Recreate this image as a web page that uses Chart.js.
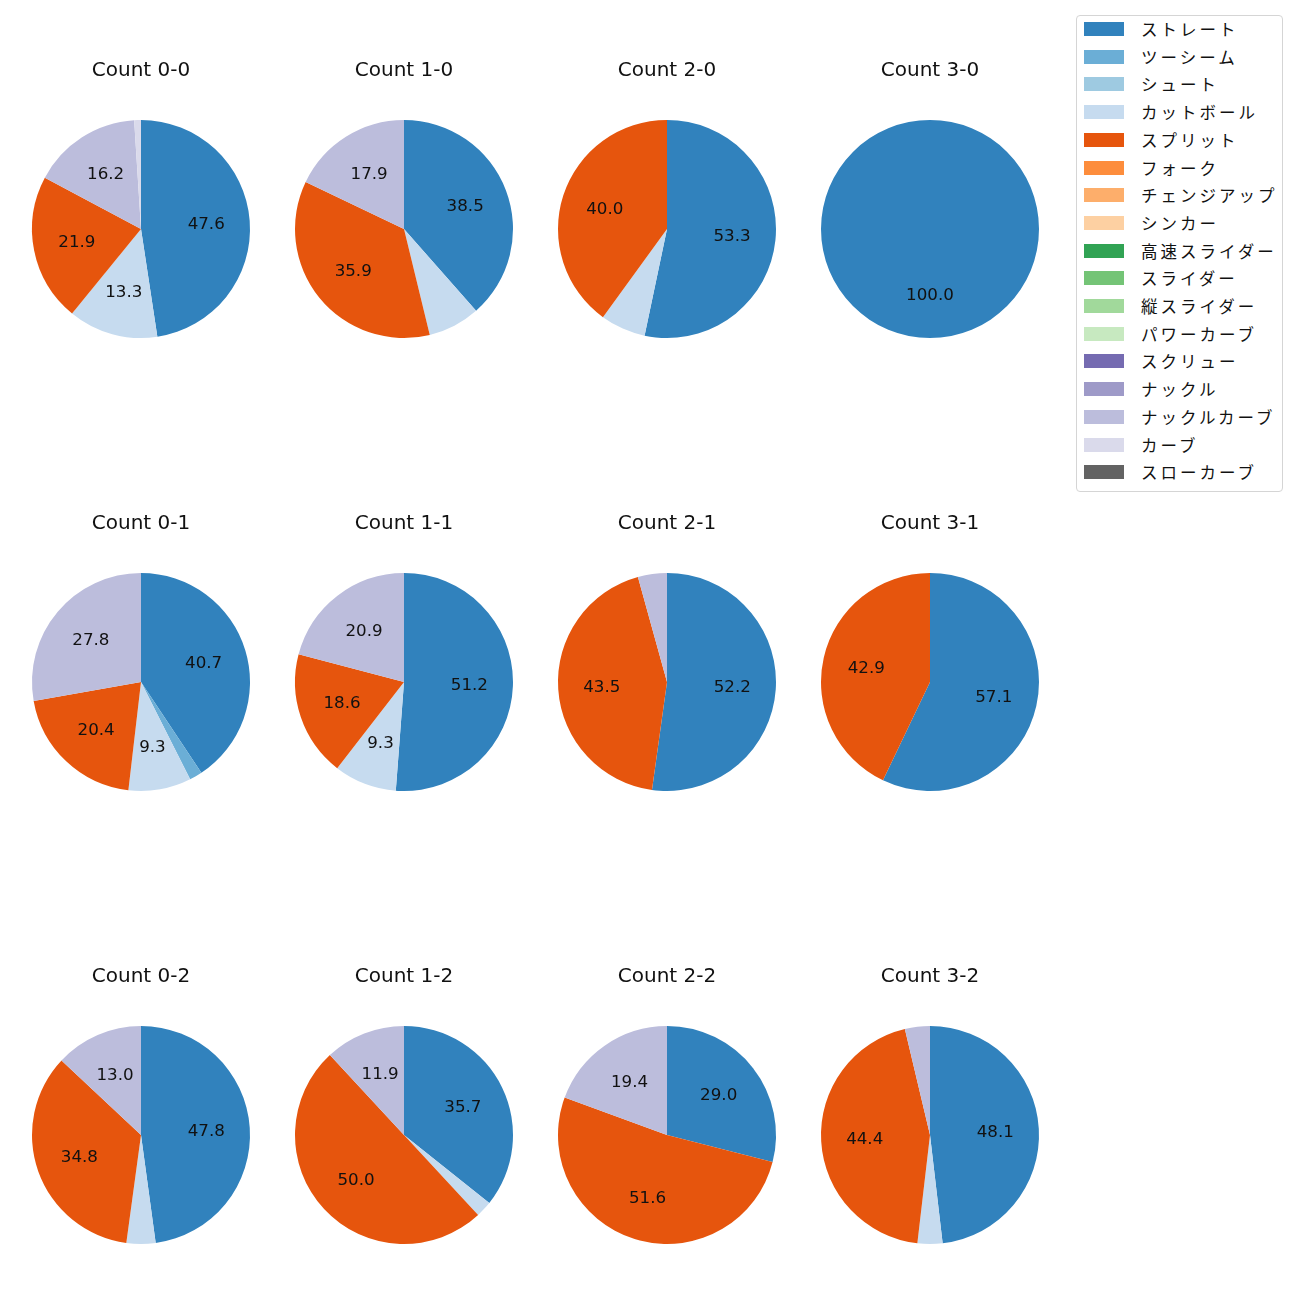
<!DOCTYPE html>
<html><head><meta charset="utf-8">
<script src="https://cdn.jsdelivr.net/npm/chart.js@4.4.1/dist/chart.umd.min.js"></script>
<style>
html,body{margin:0;padding:0;background:#fff;width:1300px;height:1300px;overflow:hidden;font-family:"DejaVu Sans","Noto Sans CJK JP",sans-serif;}
.pie{position:absolute;}
#legend{position:absolute;left:1076px;top:15px;width:205px;height:475px;border:1px solid #d5d5d5;border-radius:4px;background:#fff;}
.li{position:absolute;left:7px;height:20px;font-size:16.5px;color:#111;font-family:"Noto Sans CJK JP","DejaVu Sans",sans-serif;}
.li .sw{position:absolute;left:0;top:3px;width:40px;height:14px;}
.li .tx{position:absolute;left:57px;top:-2px;white-space:nowrap;letter-spacing:3px;}
</style></head>
<body>
<div id="legend"></div>
<script>
const pitchTypes = ['ストレート','ツーシーム','シュート','カットボール','スプリット','フォーク','チェンジアップ','シンカー','高速スライダー','スライダー','縦スライダー','パワーカーブ','スクリュー','ナックル','ナックルカーブ','カーブ','スローカーブ'];
const pitchColors = ['#3182bd','#6baed6','#9ecae1','#c6dbef','#e6550d','#fd8d3c','#fdae6b','#fdd0a2','#31a354','#74c476','#a1d99b','#c7e9c0','#756bb1','#9e9ac8','#bcbddc','#dadaeb','#636363'];
const counts = ['0-0','1-0','2-0','3-0','0-1','1-1','2-1','3-1','0-2','1-2','2-2','3-2'];
// percentages per pitch type across counts (same order as counts)
const straight     = [47.6, 38.5, 53.3, 100.0, 40.7, 51.2, 52.2, 57.1, 47.8, 35.7, 29.0, 48.1];
const twoSeam      = [0, 0, 0, 0, 1.9, 0, 0, 0, 0, 0, 0, 0];
const cutBall      = [13.3, 7.7, 6.7, 0, 9.3, 9.3, 0, 0, 4.3, 2.4, 0, 3.7];
const splitter     = [21.9, 35.9, 40.0, 0, 20.4, 18.6, 43.5, 42.9, 34.8, 50.0, 51.6, 44.4];
const knuckleCurve = [16.2, 17.9, 0, 0, 27.8, 20.9, 4.3, 0, 13.0, 11.9, 19.4, 3.7];
const curveBall    = [1.0, 0, 0, 0, 0, 0, 0, 0, 0, 0, 0, 0];
const seriesByType = {'ストレート':straight,'ツーシーム':twoSeam,'カットボール':cutBall,'スプリット':splitter,'ナックルカーブ':knuckleCurve,'カーブ':curveBall};

// legend
const lg = document.getElementById('legend');
pitchTypes.forEach((t,i)=>{
  const d=document.createElement('div');d.className='li';d.style.top=(3+i*27.7)+'px';
  d.innerHTML='<span class="sw" style="background:'+pitchColors[i]+'"></span><span class="tx">'+t+'</span>';
  lg.appendChild(d);
});

const colX=[141,404,667,930], rowY=[229,682,1135];
const R=109, W=240, TOP=180, BOT=120;
const FONT='"DejaVu Sans","Noto Sans CJK JP",sans-serif';

const overlay={
  id:'overlay',
  afterDatasetsDraw(chart,args,opts){
    const ctx=chart.ctx, meta=chart.getDatasetMeta(0), vals=chart.data.datasets[0].data;
    ctx.save();
    ctx.fillStyle='#111';ctx.textAlign='center';ctx.textBaseline='middle';
    ctx.font='16.7px '+FONT;
    meta.data.forEach((arc,i)=>{
      const v=vals[i]; if(!(v>=9)) return;
      const p=arc.getProps(['x','y','startAngle','endAngle','outerRadius'],true);
      const a=(p.startAngle+p.endAngle)/2, r=p.outerRadius*0.6;
      ctx.fillText(v.toFixed(1), p.x+Math.cos(a)*r, p.y+Math.sin(a)*r+1);
    });
    const m=meta.data[0];
    ctx.font='20px '+FONT;ctx.textBaseline='alphabetic';
    ctx.fillText(opts.title, m.x, m.y-153);
    ctx.restore();
  }
};

counts.forEach((c,k)=>{
  const col=k%4,row=Math.floor(k/4);
  const cv=document.createElement('canvas');
  cv.className='pie';cv.width=W;cv.height=TOP+BOT;
  cv.style.left=(colX[col]-W/2)+'px';cv.style.top=(rowY[row]-TOP)+'px';
  cv.style.width=W+'px';cv.style.height=(TOP+BOT)+'px';
  document.body.appendChild(cv);
  const data=pitchTypes.map(t=>seriesByType[t]?seriesByType[t][k]:0);
  new Chart(cv,{
    type:'pie',
    data:{labels:pitchTypes,datasets:[{data:data,backgroundColor:pitchColors,borderWidth:0}]},
    options:{
      responsive:false,animation:false,devicePixelRatio:1,
      layout:{padding:{top:TOP-R,bottom:BOT-R,left:W/2-R,right:W/2-R}},
      plugins:{legend:{display:false},tooltip:{enabled:false},title:{display:false},overlay:{title:'Count '+c}}
    },
    plugins:[overlay]
  });
});
</script>
</body></html>
